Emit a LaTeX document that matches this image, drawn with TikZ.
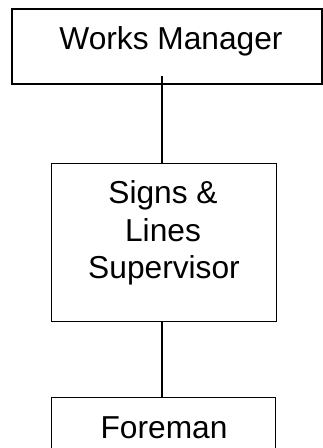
\documentclass[tikz,border=0pt]{standalone}
\usepackage{fontspec}
\setmainfont{Liberation Sans}
\begin{document}
\begin{tikzpicture}[x=1pt,y=-1pt,
  box/.style={draw=black,line width=1pt,inner sep=0pt,rectangle},
  lbl/.style={inner sep=0pt,anchor=base,font=\fontsize{31.7}{38}\selectfont},
  link/.style={draw=black,line width=1.2pt}]
\useasboundingbox (0,0) rectangle (323,448);
\clip (0,0) rectangle (323,448);
\fill[white] (0,0) rectangle (323,448);
% boxes
\node[box,line width=1.6pt,minimum width=310pt,minimum height=75pt] (wm) at (167,46.5) {};
\node[box,minimum width=225pt,minimum height=158pt] (sls) at (163.5,242) {};
\node[box,minimum width=224pt,minimum height=80pt] (fm) at (163,437) {};
% texts
\node[lbl] (wmt) at (171,49) {Works Manager};
\node[lbl] (slt1) at (163,203) {Signs \&};
\node[lbl] (slt2) at (163,241) {Lines};
\node[lbl] (slt3) at (164,278) {Supervisor};
\node[lbl] (fmt) at (164,438) {Foreman};
% connectors
\coordinate (wmtap) at (162,76);
\draw[link] (wmtap) -- (wmtap |- sls.north);
\draw[link] (wmtap |- sls.south) -- (wmtap |- fm.north);
\end{tikzpicture}
\end{document}
